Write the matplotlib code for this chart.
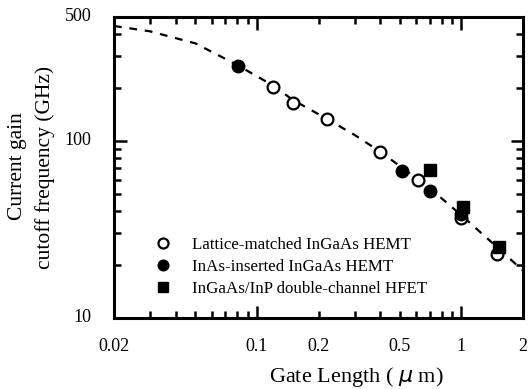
import numpy as np
import matplotlib.pyplot as plt
from matplotlib.ticker import FixedLocator, NullFormatter

plt.rcParams['font.family'] = ['Liberation Serif', 'DejaVu Serif']

# fitted trend (dashed)
curve_x = [0.02, 0.03, 0.05, 0.08, 0.12, 0.15, 0.22, 0.3, 0.4, 0.5, 0.7, 1.0, 1.5, 2.0]
curve_y = [445, 415, 355, 268, 205, 170, 133, 108, 87, 72, 54, 38, 25, 18.5]

# lattice-matched InGaAs HEMT
lm_x = [0.12, 0.15, 0.22, 0.40, 0.61, 1.0, 1.5]
lm_y = [201, 163, 133, 86.5, 60, 36.7, 23]
# InAs-inserted InGaAs HEMT
inas_x = [0.081, 0.51, 0.70, 1.0]
inas_y = [264, 67.6, 52, 38.5]
# InGaAs/InP double-channel HFET
dc_x = [0.70, 1.02, 1.53]
dc_y = [68.4, 42.3, 25.2]

xtick_vals = [0.02, 0.1, 0.2, 0.5, 1, 2]
xtick_txt = ['0.02', '0.1', '0.2', '0.5', '1', '2']
ytick_vals = [10, 100, 500]
ytick_txt = ['10', '100', '500']

fig = plt.figure(figsize=(5.28, 3.89), dpi=100)
ax = fig.add_axes([114/528, 1-318/389, 409/528, 301/389])
ax.set_xscale('log')
ax.set_yscale('log')
ax.set_xlim(0.02, 2)
ax.set_ylim(10, 500)

ax.plot(curve_x, curve_y, color='k', lw=1.6, ls=(0, (3.5, 3.5)), zorder=2)
l1, = ax.plot(lm_x, lm_y, 'o', ms=8.5, mfc='white', mec='k', mew=1.6, ls='none', zorder=3)
l2, = ax.plot(inas_x, inas_y, 'o', ms=9, mfc='k', mec='k', ls='none', zorder=4)
l3, = ax.plot(dc_x, dc_y, 's', ms=8.5, mfc='k', mec='k', ls='none', zorder=4)

ax.legend([l1, l2, l3],
          ['Lattice-matched InGaAs HEMT', 'InAs-inserted InGaAs HEMT',
           'InGaAs/InP double-channel HFET'],
          frameon=False, loc='lower left', bbox_to_anchor=(0.04, 0.02),
          fontsize=12.2, handletextpad=0.75, labelspacing=0.35, markerscale=0.85)

ax.xaxis.set_major_locator(FixedLocator([0.1, 1]))
ax.xaxis.set_minor_locator(FixedLocator([0.03, 0.04, 0.05, 0.06, 0.07, 0.08, 0.09,
                                         0.2, 0.3, 0.4, 0.5, 0.6, 0.7, 0.8, 0.9]))
ax.xaxis.set_major_formatter(NullFormatter())
ax.xaxis.set_minor_formatter(NullFormatter())
ax.yaxis.set_major_locator(FixedLocator([100]))
ax.yaxis.set_minor_locator(FixedLocator([20, 30, 40, 50, 60, 70, 80, 90, 200, 300, 400]))
ax.yaxis.set_major_formatter(NullFormatter())
ax.yaxis.set_minor_formatter(NullFormatter())

ax.tick_params(which='both', direction='in', top=True, right=True, width=1.8)
ax.tick_params(which='major', length=9)
ax.tick_params(which='minor', length=5)
for s in ax.spines.values():
    s.set_linewidth(2.2)

# tick labels as text
for v, t in zip(xtick_vals, xtick_txt):
    ax.text(v, -0.095, t, transform=ax.get_xaxis_transform(), ha='center', va='center',
            fontsize=13)
for v, t in zip(ytick_vals, ytick_txt):
    ax.text(-0.055, v, t, transform=ax.get_yaxis_transform(), ha='right', va='center',
            fontsize=13)

fig.text(356/528, 1-377/389, 'Gate Length ( $\\mu$ m)', ha='center', va='center',
         fontsize=16)
fig.text(18/528, 1-166/389, 'Current gain', rotation=90, ha='center', va='center',
         fontsize=15.5)
fig.text(45/528, 1-167/389, 'cutoff frequency (GHz)', rotation=90, ha='center',
         va='center', fontsize=15.5)

fig.savefig('out.png', dpi=100)
